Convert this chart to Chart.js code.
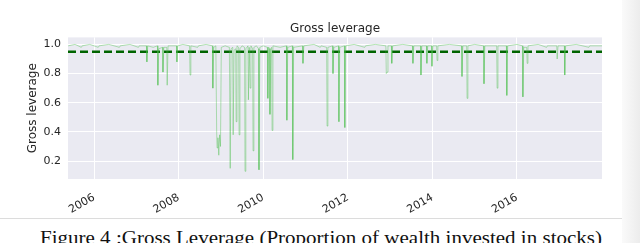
<!DOCTYPE html>
<html>
<head>
<meta charset="utf-8">
<script src="https://cdn.jsdelivr.net/npm/chart.js@4/dist/chart.umd.min.js"></script>
<style>
    html, body { margin: 0; padding: 0; background: #ffffff; }
    body { width: 640px; height: 243px; position: relative; overflow: hidden; }
    #page-shadow {
        position: absolute; left: 622px; top: 0; width: 18px; height: 243px;
        background: linear-gradient(to right, #fafafa, #ececec);
    }
    #chart-box { position: absolute; left: 0; top: 0; width: 640px; height: 218px; }
    #rule { position: absolute; left: 0; top: 218px; width: 622px; height: 1px; background: #dcdcdc; }
    #caption {
        position: absolute; left: 40px; top: 228px; white-space: nowrap;
        font-family: "Liberation Serif", "DejaVu Serif", serif; font-size: 18px; line-height: 20px;
        color: #111; transform-origin: 0 0;
    }
</style>
</head>
<body>
<div id="page-shadow"></div>
<div id="chart-box"><canvas id="leverage-chart" width="640" height="218"></canvas></div>
<div id="rule"></div>
<div id="caption">Figure 4 :Gross Leverage (Proportion of wealth invested in stocks)</div>
<script>
// Gross leverage data (decimal years)
const dates = [
    2005.39, 2005.55, 2005.70, 2005.72, 2005.90,
    2006.10, 2006.12, 2006.35, 2006.60, 2006.62, 2006.85,
    2007.05, 2007.07, 2007.24, 2007.25, 2007.27, 2007.40, 2007.50, 2007.51, 2007.53,
    2007.62, 2007.63, 2007.65, 2007.72, 2007.73, 2007.75, 2007.95, 2007.96, 2007.98,
    2008.10, 2008.26, 2008.27, 2008.29, 2008.45, 2008.47, 2008.65, 2008.80, 2008.81, 2008.83,
    2008.88, 2008.90, 2008.91, 2008.93, 2008.95, 2008.97, 2008.99,
    2009.01, 2009.10, 2009.20, 2009.22, 2009.24, 2009.28, 2009.29, 2009.31, 2009.35, 2009.36,
    2009.38, 2009.42, 2009.43, 2009.45, 2009.50, 2009.56, 2009.57, 2009.59, 2009.64, 2009.65,
    2009.67, 2009.69, 2009.71, 2009.75, 2009.76, 2009.78, 2009.84, 2009.89, 2009.90, 2009.92,
    2010.00, 2010.10, 2010.11, 2010.13, 2010.15, 2010.16, 2010.18, 2010.20, 2010.21, 2010.23,
    2010.40, 2010.55, 2010.56, 2010.58, 2010.69, 2010.70, 2010.72, 2010.93, 2010.94, 2010.96,
    2011.20, 2011.35, 2011.37, 2011.50, 2011.51, 2011.53, 2011.64, 2011.65, 2011.67,
    2011.78, 2011.79, 2011.81, 2011.92, 2011.93, 2011.95,
    2012.15, 2012.40, 2012.42, 2012.65, 2012.90, 2012.91, 2012.93, 2012.95,
    2013.03, 2013.04, 2013.06, 2013.30, 2013.53, 2013.54, 2013.56, 2013.72, 2013.73, 2013.75,
    2013.86, 2013.87, 2013.89, 2013.98, 2013.99,
    2014.01, 2014.10, 2014.11, 2014.13, 2014.40, 2014.69, 2014.70, 2014.72, 2014.81, 2014.82, 2014.84,
    2015.00, 2015.21, 2015.22, 2015.24, 2015.52, 2015.53, 2015.55, 2015.75, 2015.76, 2015.78,
    2016.00, 2016.13, 2016.14, 2016.16, 2016.23, 2016.24, 2016.26, 2016.50, 2016.70, 2016.72,
    2016.94, 2016.95, 2016.97,
    2017.12, 2017.13, 2017.15, 2017.40, 2017.70, 2017.72, 2018.01
];
const leverage = [
    0.99, 1.00, 0.98, 0.99, 1.00,
    0.98, 0.99, 1.00, 0.98, 0.99, 1.00,
    0.98, 0.99, 0.99, 0.88, 0.99, 0.98, 0.99, 0.72, 0.97,
    0.98, 0.81, 0.98, 0.98, 0.72, 0.99, 0.99, 0.88, 0.99,
    1.00, 0.99, 0.79, 0.99, 0.98, 0.99, 1.00, 0.99, 0.70, 0.98,
    0.99, 0.40, 0.29, 0.36, 0.24, 0.38, 0.30,
    0.98, 0.99, 0.98, 0.15, 0.97, 0.98, 0.38, 0.96, 0.97, 0.47,
    0.99, 0.98, 0.38, 0.97, 0.99, 0.98, 0.13, 0.97, 0.99, 0.62,
    0.98, 0.70, 0.99, 0.97, 0.27, 0.98, 0.99, 0.97, 0.14, 0.98,
    0.99, 0.98, 0.63, 0.98, 0.97, 0.52, 0.97, 0.98, 0.41, 0.99,
    0.98, 0.99, 0.48, 0.98, 0.99, 0.21, 0.98, 0.99, 0.87, 0.99,
    1.00, 0.98, 0.99, 0.98, 0.44, 0.98, 0.99, 0.80, 0.98,
    0.99, 0.47, 0.98, 0.99, 0.43, 0.99,
    1.00, 0.98, 0.99, 1.00, 0.99, 0.80, 0.81, 0.99,
    0.99, 0.87, 0.99, 1.00, 0.99, 0.87, 0.99, 0.99, 0.79, 0.99,
    0.99, 0.87, 0.99, 0.99, 0.85,
    0.99, 0.99, 0.89, 0.99, 1.00, 0.99, 0.78, 0.99, 0.99, 0.63, 0.99,
    1.00, 0.99, 0.73, 0.99, 0.99, 0.70, 0.99, 0.99, 0.65, 0.99,
    1.00, 0.99, 0.64, 0.98, 0.98, 0.87, 0.99, 1.00, 0.98, 0.99,
    0.99, 0.90, 0.99,
    0.99, 0.79, 0.99, 1.00, 0.98, 0.99, 0.99
];
const targetLeverage = 0.95;
const yearTicks = [2006, 2008, 2010, 2012, 2014, 2016];
const leverageTicks = [0.2, 0.4, 0.6, 0.8, 1.0];

const X_MIN = 2005.385;
const X_MAX = 2018.01;
const Y_MIN = 0.077;
const Y_MAX = 1.048;

const TEXT_COLOR = '#262626';
const FONT = 'DejaVu Sans';

// seaborn-like grey plot background
const plotBackground = {
    id: 'plotBackground',
    beforeDraw(chart) {
        const a = chart.chartArea;
        const c = chart.ctx;
        c.save();
        c.fillStyle = '#eaeaf2';
        c.fillRect(a.left, a.top, a.right - a.left, a.bottom - a.top);
        c.restore();
    }
};

document.addEventListener('DOMContentLoaded', function() {
    setupLeverageChart();
    fitCaption();
});

function setupLeverageChart() {
    const ctx = document.getElementById('leverage-chart');

    new Chart(ctx, {
        type: 'line',
        data: {
            datasets: [{
                label: 'Gross leverage',
                data: dates.map((d, i) => ({ x: d, y: leverage[i] })),
                borderColor: 'rgba(70, 190, 70, 0.5)',
                borderWidth: 0.8,
                pointRadius: 0,
                tension: 0
            }, {
                label: 'Target',
                data: [{ x: X_MIN, y: targetLeverage }, { x: X_MAX, y: targetLeverage }],
                borderColor: '#006400',
                borderWidth: 2.5,
                borderDash: [8, 4],
                pointRadius: 0
            }]
        },
        options: {
            responsive: false,
            animation: false,
            layout: { padding: { left: 0, right: 38, top: 0, bottom: 0 } },
            plugins: {
                legend: { display: false },
                tooltip: { enabled: false },
                title: {
                    display: true,
                    fullSize: false,
                    text: 'Gross leverage',
                    color: TEXT_COLOR,
                    font: { family: FONT, size: 12, weight: 'normal' },
                    padding: { top: 22, bottom: 1 }
                }
            },
            scales: {
                x: {
                    type: 'linear',
                    min: X_MIN,
                    max: X_MAX,
                    afterBuildTicks: function(scale) {
                        scale.ticks = yearTicks.map(v => ({ value: v }));
                    },
                    afterFit: function(scale) {
                        scale.height = 39;
                    },
                    ticks: {
                        minRotation: 30,
                        maxRotation: 30,
                        autoSkip: false,
                        padding: 12,
                        color: TEXT_COLOR,
                        font: { family: FONT, size: 11 },
                        callback: function(value) {
                            return String(value);
                        }
                    },
                    grid: { color: '#ffffff', lineWidth: 1, drawTicks: false },
                    border: { display: false }
                },
                y: {
                    min: Y_MIN,
                    max: Y_MAX,
                    afterBuildTicks: function(scale) {
                        scale.ticks = leverageTicks.map(v => ({ value: v }));
                    },
                    afterFit: function(scale) {
                        scale.width = 68;
                    },
                    ticks: {
                        padding: 7,
                        color: TEXT_COLOR,
                        font: { family: FONT, size: 11 },
                        callback: function(value) {
                            return value.toFixed(1);
                        }
                    },
                    title: {
                        display: true,
                        text: 'Gross leverage',
                        color: TEXT_COLOR,
                        font: { family: FONT, size: 12 },
                        padding: { top: 26, bottom: 0 }
                    },
                    grid: { color: '#ffffff', lineWidth: 1, drawTicks: false },
                    border: { display: false }
                }
            }
        },
        plugins: [plotBackground]
    });
}

// stretch the caption to the width it has in the paper
function fitCaption() {
    const cap = document.getElementById('caption');
    const natural = cap.getBoundingClientRect().width;
    const wanted = 562;
    cap.style.transform = 'scaleX(' + (wanted / natural).toFixed(4) + ')';
}
</script>
</body>
</html>
